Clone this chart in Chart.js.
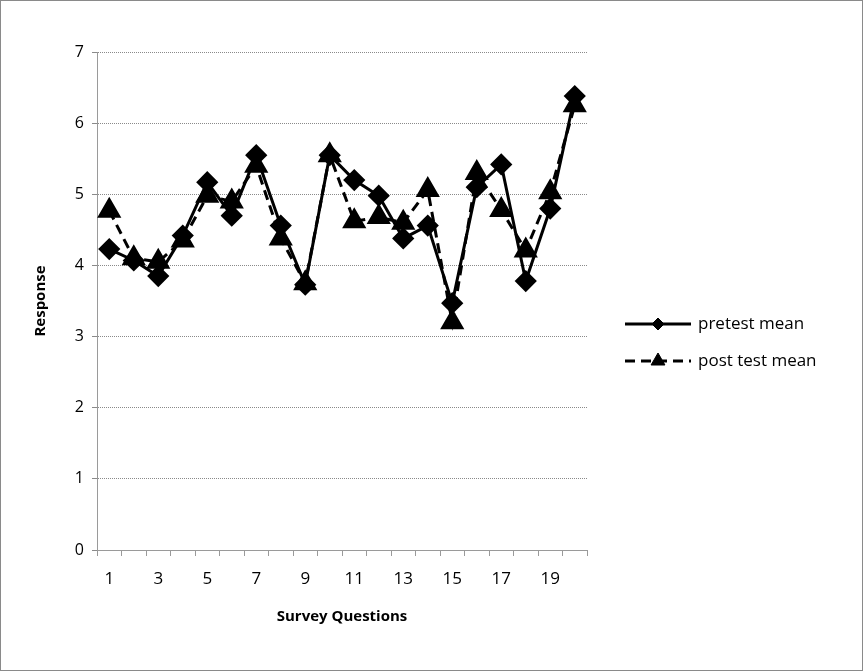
<!DOCTYPE html>
<html lang="en">
<head>
<meta charset="UTF-8">
<title>Survey Questions</title>
<script src="https://cdn.jsdelivr.net/npm/chart.js"></script>
<style>
html, body {
	margin: 0;
	padding: 0;
	background: #fff;
}

.frame {
	width: 861px;
	height: 669px;
	border: 1px solid #8a8a8a;
}
</style>
</head>
<body>
<div class="frame">
	<canvas id="chart" width="861" height="669"></canvas>
</div>
<script>
const questions = ['1', '2', '3', '4', '5', '6', '7', '8', '9', '10',
	'11', '12', '13', '14', '15', '16', '17', '18', '19', '20'];
const pretestMean = [4.23, 4.07, 3.85, 4.42, 5.17, 4.70, 5.55, 4.56, 3.73, 5.55,
	5.20, 4.98, 4.38, 4.56, 3.47, 5.10, 5.42, 3.78, 4.80, 6.38];
const postTestMean = [4.77, 4.10, 4.05, 4.35, 4.98, 4.90, 5.40, 4.38, 3.75, 5.55,
	4.62, 4.68, 4.60, 5.06, 3.20, 5.30, 4.78, 4.21, 5.03, 6.25];
const yTicks = [0, 1, 2, 3, 4, 5, 6, 7];

const font = "'Open Sans', 'Noto Sans', sans-serif";

// legend drawn to the right of the plot, Excel style
const sideLegend = {
	id: 'sideLegend',
	afterDraw(chart) {
		const ctx = chart.ctx;
		const x0 = 624, x1 = 690;
		const rows = [323, 360];
		chart.data.datasets.forEach((ds, i) => {
			const y = rows[i];
			ctx.save();
			ctx.strokeStyle = ds.borderColor;
			ctx.fillStyle = ds.backgroundColor;
			ctx.lineWidth = ds.borderWidth;
			ctx.setLineDash(ds.borderDash || []);
			ctx.beginPath();
			ctx.moveTo(x0, y);
			ctx.lineTo(x1, y);
			ctx.stroke();
			ctx.setLineDash([]);
			ctx.lineWidth = 1;
			Chart.helpers.drawPoint(ctx, {
				pointStyle: ds.pointStyle,
				radius: ds.pointStyle === 'triangle' ? 8 : 6,
				rotation: 0,
				borderWidth: 1
			}, (x0 + x1) / 2, y);
			ctx.restore();
			ctx.save();
			ctx.fillStyle = '#000';
			ctx.font = '17px ' + font;
			ctx.textBaseline = 'middle';
			ctx.fillText(ds.label, x1 + 7, y);
			ctx.restore();
		});
	}
};

const ctx = document.getElementById('chart').getContext('2d');
const myChart = new Chart(ctx, {
	type: 'line',
	data: {
		labels: questions,
		datasets: [{
			label: 'pretest mean',
			data: pretestMean,
			borderColor: '#000',
			backgroundColor: '#000',
			borderWidth: 3,
			pointStyle: 'rectRot',
			pointRadius: 9,
			pointHoverRadius: 9,
			tension: 0
		}, {
			label: 'post test mean',
			data: postTestMean,
			borderColor: '#000',
			backgroundColor: '#000',
			borderWidth: 3,
			borderDash: [10, 6],
			pointStyle: 'triangle',
			pointRadius: 11,
			pointHoverRadius: 11,
			tension: 0
		}]
	},
	options: {
		responsive: false,
		animation: false,
		layout: {
			padding: { left: 27, right: 275, top: 51, bottom: 40 }
		},
		plugins: {
			legend: { display: false },
			tooltip: { enabled: false }
		},
		scales: {
			x: {
				offset: true,
				grid: {
					display: true,
					offset: true,
					drawOnChartArea: false,
					drawTicks: true,
					tickLength: 6,
					color: '#9a9a9a'
				},
				border: { color: '#9a9a9a', dash: [1, 1] },
				ticks: {
					autoSkip: false,
					maxRotation: 0,
					padding: 13,
					color: '#000',
					font: { family: font, size: 17 },
					callback: function (val, i) { return i % 2 === 0 ? this.getLabelForValue(val) : ''; }
				},
				title: {
					display: true,
					text: 'Survey Questions',
					color: '#000',
					font: { family: font, size: 15, weight: 'bold' },
					padding: { top: 4 }
				},
				afterFit: s => { s.height = 80; }
			},
			y: {
				min: 0,
				max: 7,
				afterBuildTicks: s => { s.ticks = yTicks.map(v => ({ value: v })); },
				grid: {
					color: '#8a8a8a',
					tickLength: 5,
					drawTicks: true
				},
				border: { color: '#9a9a9a', dash: [1, 1] },
				ticks: {
					padding: 8,
					color: '#000',
					font: { family: font, size: 16 }
				},
				title: {
					display: true,
					text: 'Response',
					color: '#000',
					font: { family: font, size: 15, weight: 'bold' },
					padding: { bottom: 4 }
				},
				afterFit: s => { s.width = 69; }
			}
		}
	},
	plugins: [sideLegend]
});
</script>
</body>
</html>
